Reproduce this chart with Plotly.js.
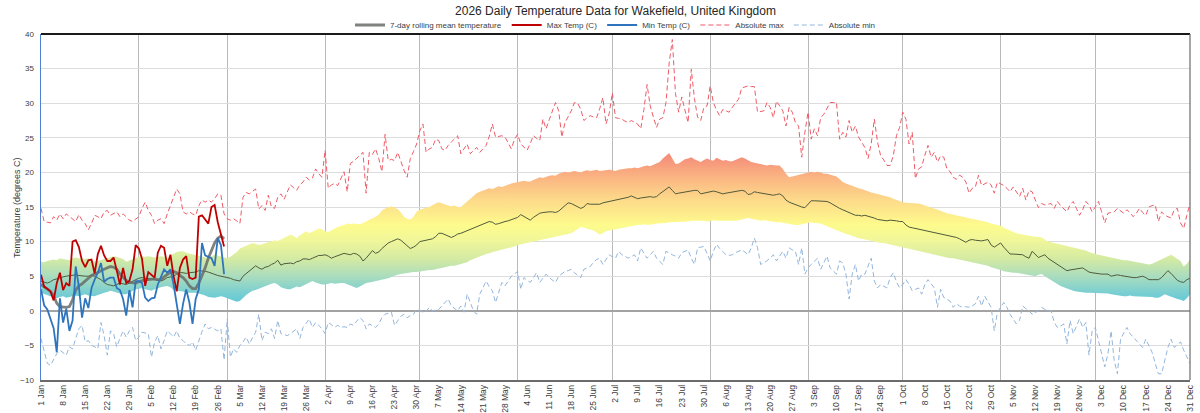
<!DOCTYPE html>
<html>
<head>
<meta charset="utf-8">
<script src="https://cdn.plot.ly/plotly-3.0.1.min.js"></script>
<style>
  html, body { margin: 0; padding: 0; background: #ffffff; }
  #chart { width: 1200px; height: 413px; }
</style>
</head>
<body>
<div id="chart"></div>
<script>
// Year axis: one category per day of 2026
const YEAR = 2026;
const DAY_COUNT = 365;

// Weekly tick labels along the bottom axis
const tickLabels = [
  '1 Jan', '8 Jan', '15 Jan', '22 Jan', '29 Jan', '5 Feb', '12 Feb', '19 Feb', '26 Feb',
  '5 Mar', '12 Mar', '19 Mar', '26 Mar', '2 Apr', '9 Apr', '16 Apr', '23 Apr', '30 Apr',
  '7 May', '14 May', '21 May', '28 May', '4 Jun', '11 Jun', '18 Jun', '25 Jun',
  '2 Jul', '9 Jul', '16 Jul', '23 Jul', '30 Jul', '6 Aug', '13 Aug', '20 Aug', '27 Aug',
  '3 Sep', '10 Sep', '17 Sep', '24 Sep', '1 Oct', '8 Oct', '15 Oct', '22 Oct', '29 Oct',
  '5 Nov', '12 Nov', '19 Nov', '26 Nov', '3 Dec', '10 Dec', '17 Dec', '24 Dec', '31 Dec'
];

// Long-term average daily mean temperature (thin line through the band)
const normalMean = [
  4.3, 4.2, 4.0, 4.2, 4.5, 4.6, 4.8, 4.9, 5.0, 5.1,
  5.2, 5.2, 5.1, 5.0, 5.0, 5.0, 5.1, 5.0, 4.8, 4.5,
  4.1, 3.8, 3.7, 3.6, 3.8, 4.0, 3.9, 3.8, 4.0, 4.3,
  4.5, 4.7, 4.8, 4.7, 4.7, 4.6, 4.5, 4.4, 4.3, 4.5,
  4.8, 4.9, 5.0, 5.3, 5.5, 5.5, 5.4, 5.5, 5.5, 5.6,
  5.8, 5.8, 5.7, 5.6, 5.4, 5.3, 5.1, 5.0, 4.9, 4.9,
  4.7, 4.5, 4.4, 4.3, 5.0, 5.4, 5.8, 6.1, 6.5, 6.2,
  6.0, 6.3, 6.4, 6.7, 6.9, 7.3, 6.6, 6.8, 6.9, 6.9,
  6.8, 7.1, 7.2, 7.5, 7.5, 7.4, 7.6, 7.8, 8.0, 8.0,
  8.1, 7.9, 7.6, 7.8, 8.0, 8.2, 8.3, 8.2, 8.1, 8.3,
  8.2, 7.9, 7.2, 7.6, 8.2, 8.7, 8.3, 8.5, 9.0, 9.4,
  9.8, 10.0, 10.2, 10.4, 10.2, 9.8, 9.4, 9.0, 9.2, 9.5,
  10.0, 10.1, 10.1, 10.2, 10.4, 10.7, 11.2, 11.2, 11.0, 10.8,
  10.6, 10.8, 11.1, 11.2, 11.4, 11.6, 11.8, 12.0, 12.2, 12.3,
  12.5, 12.7, 12.9, 12.8, 12.5, 12.6, 12.8, 12.9, 13.0, 13.2,
  13.4, 13.5, 13.9, 13.6, 13.3, 13.1, 13.5, 13.8, 14.1, 14.2,
  14.3, 14.3, 14.3, 14.2, 14.4, 14.8, 15.1, 15.6, 15.5, 15.3,
  15.1, 14.8, 15.0, 15.5, 15.4, 15.4, 15.3, 15.4, 15.6, 15.7,
  15.8, 15.9, 15.9, 16.0, 16.1, 16.3, 16.4, 16.6, 16.4, 16.2,
  16.3, 16.4, 16.5, 16.5, 16.4, 16.5, 16.9, 17.2, 17.5, 17.9,
  17.4, 16.9, 17.0, 17.1, 17.2, 17.3, 17.3, 17.4, 17.4, 16.9,
  17.0, 17.1, 17.3, 17.3, 17.2, 17.0, 16.9, 17.0, 17.1, 17.2,
  17.3, 17.4, 17.4, 17.3, 16.8, 16.9, 17.2, 17.1, 17.0, 16.9,
  16.8, 16.7, 16.7, 16.8, 16.9, 16.6, 16.0, 15.7, 15.5, 15.3,
  15.2, 15.0, 14.9, 15.4, 15.9, 15.9, 15.9, 15.9, 15.8, 15.8,
  15.6, 15.3, 15.0, 14.8, 14.6, 14.4, 14.2, 14.0, 13.8, 13.8,
  13.7, 13.8, 13.7, 13.5, 13.4, 13.2, 13.1, 13.0, 13.0, 13.1,
  13.1, 13.0, 12.9, 12.9, 12.4, 12.1, 12.0, 11.9, 11.9, 11.8,
  11.7, 11.6, 11.5, 11.4, 11.3, 11.2, 11.1, 11.0, 10.9, 10.8,
  10.6, 10.4, 10.1, 9.9, 10.2, 10.3, 10.2, 10.1, 10.1, 10.2,
  10.3, 9.5, 9.2, 9.5, 9.8, 9.2, 8.7, 8.2, 8.2, 8.2,
  8.1, 8.1, 7.8, 7.6, 8.6, 8.2, 7.7, 7.9, 8.1, 7.6,
  7.3, 7.0, 6.6, 6.3, 6.0, 5.8, 5.9, 6.0, 6.0, 6.1,
  6.2, 5.9, 5.6, 5.5, 5.4, 5.3, 5.3, 5.3, 5.3, 5.0,
  5.1, 5.2, 5.1, 5.0, 5.0, 4.9, 4.8, 4.8, 4.9, 5.0,
  4.8, 4.5, 4.5, 4.5, 4.5, 4.8, 5.3, 5.8, 5.4, 4.9,
  4.4, 4.2, 4.1, 4.5, 4.7
];

// Upper edge of the usual range
const rangeUpper = [
  7.1, 7.0, 7.2, 7.3, 7.4, 7.3, 7.6, 7.5, 7.4, 7.3,
  7.6, 7.7, 7.6, 7.5, 7.5, 7.6, 7.4, 7.1, 7.2, 7.4,
  7.5, 7.6, 7.8, 7.9, 7.8, 7.6, 7.5, 7.1, 7.3, 7.5,
  7.6, 7.8, 7.9, 7.8, 7.9, 7.8, 7.7, 7.8, 7.9, 7.8,
  7.6, 8.0, 8.3, 8.5, 8.6, 8.6, 8.4, 8.3, 8.2, 8.1,
  8.0, 7.9, 7.8, 7.6, 7.9, 8.1, 8.0, 7.9, 7.7, 7.6,
  7.8, 8.1, 8.5, 9.0, 9.2, 9.3, 9.5, 9.8, 9.7, 9.5,
  9.6, 9.8, 9.9, 10.0, 10.2, 10.1, 10.3, 10.5, 10.8, 11.0,
  10.8, 10.5, 10.9, 11.2, 11.5, 11.2, 11.4, 11.6, 11.9, 11.8,
  11.5, 11.4, 11.7, 11.9, 12.1, 12.2, 12.4, 12.6, 12.5, 12.6,
  12.6, 12.5, 12.7, 12.9, 13.1, 13.3, 13.6, 13.9, 14.5, 14.8,
  15.0, 15.1, 14.9, 14.7, 14.2, 13.6, 13.3, 13.2, 13.6, 14.3,
  14.6, 14.8, 14.9, 15.0, 15.3, 15.5, 15.7, 15.5, 15.3, 15.2,
  15.1, 15.2, 15.0, 15.0, 15.4, 15.8, 16.3, 16.7, 17.0, 17.2,
  17.4, 17.5, 17.7, 17.6, 17.8, 18.0, 17.9, 18.1, 18.2, 18.4,
  18.5, 18.6, 18.7, 18.8, 18.7, 18.7, 18.9, 19.1, 19.3, 19.2,
  19.4, 19.5, 19.6, 19.5, 19.8, 19.9, 20.1, 20.0, 20.1, 20.2,
  20.1, 20.0, 20.2, 20.3, 20.2, 20.3, 20.4, 20.2, 20.3, 20.3,
  20.4, 20.3, 20.2, 20.4, 20.5, 20.5, 20.6, 20.6, 20.7, 20.6,
  20.8, 20.9, 21.0, 20.9, 21.1, 21.3, 21.5, 22.0, 22.4, 22.8,
  22.0, 21.2, 21.3, 21.6, 21.9, 22.0, 22.2, 21.9, 21.7, 21.5,
  21.8, 22.0, 21.8, 21.7, 22.1, 21.9, 21.7, 21.8, 21.6, 21.6,
  21.8, 22.0, 22.2, 22.0, 21.7, 21.5, 21.4, 21.3, 21.2, 21.1,
  21.0, 21.1, 21.0, 21.0, 21.0, 20.5, 19.8, 19.3, 19.4, 19.5,
  19.6, 19.8, 19.9, 20.0, 20.1, 20.0, 20.1, 20.0, 19.8, 19.8,
  19.7, 19.6, 19.4, 19.0, 18.6, 18.4, 18.2, 18.0, 17.9, 17.7,
  17.6, 17.4, 17.3, 17.1, 17.0, 16.9, 16.8, 16.7, 16.6, 16.4,
  16.2, 16.0, 15.8, 15.7, 15.6, 15.6, 15.5, 15.5, 15.5, 15.4,
  15.2, 15.0, 14.9, 14.8, 14.6, 14.4, 14.3, 14.1, 14.0, 13.9,
  13.8, 13.8, 13.7, 13.5, 13.4, 13.4, 13.3, 13.1, 13.1, 13.0,
  12.8, 12.6, 12.5, 12.5, 12.3, 12.0, 11.8, 11.5, 11.3, 11.2,
  11.1, 11.0, 10.9, 10.8, 10.8, 10.7, 10.7, 10.6, 10.3, 10.0,
  9.9, 9.8, 9.6, 9.5, 9.4, 9.3, 9.2, 9.1, 9.0, 8.9,
  8.8, 8.7, 8.5, 8.3, 8.2, 8.1, 8.0, 7.8, 7.7, 7.6,
  7.5, 7.4, 7.4, 7.3, 7.3, 7.2, 7.1, 7.0, 6.9, 6.9,
  6.8, 6.7, 6.8, 7.0, 7.3, 7.5, 7.7, 7.9, 8.1, 7.8,
  7.5, 7.2, 6.4, 6.8, 7.4
];

// Lower edge of the usual range
const rangeLower = [
  2.6, 2.4, 2.3, 2.1, 2.0, 1.8, 2.0, 2.1, 1.9, 2.0,
  2.1, 2.2, 2.1, 2.3, 2.4, 2.2, 2.1, 2.1, 2.3, 2.5,
  2.6, 2.7, 2.9, 2.8, 2.6, 2.5, 2.4, 2.4, 2.6, 2.9,
  3.1, 3.2, 3.3, 3.1, 3.0, 2.9, 3.1, 3.3, 3.4, 3.5,
  3.6, 3.4, 3.0, 2.9, 2.9, 2.8, 2.6, 2.6, 2.7, 2.6,
  2.5, 2.4, 2.2, 2.0, 1.9, 1.9, 2.0, 2.1, 2.0, 1.8,
  1.7, 1.5, 1.3, 1.4, 1.9, 2.3, 2.6, 2.9, 3.0, 3.2,
  3.3, 3.5, 3.7, 3.9, 4.0, 3.8, 3.4, 3.2, 3.1, 3.1,
  3.3, 3.5, 3.4, 3.6, 3.9, 4.1, 4.3, 4.1, 3.9, 3.8,
  3.8, 3.9, 4.0, 3.9, 4.0, 4.0, 4.0, 3.8, 3.6, 3.4,
  3.3, 3.5, 3.8, 4.0, 4.1, 4.2, 4.3, 4.3, 4.4, 4.5,
  4.7, 4.9, 5.1, 5.2, 5.3, 5.4, 5.5, 5.5, 5.6, 5.6,
  5.7, 5.7, 5.8, 5.9, 5.9, 6.0, 6.1, 6.3, 6.3, 6.4,
  6.5, 6.5, 6.6, 6.7, 6.8, 7.0, 7.3, 7.5, 7.7, 7.8,
  8.0, 8.2, 8.3, 8.5, 8.6, 8.7, 8.8, 9.0, 9.1, 9.2,
  9.3, 9.5, 9.6, 9.7, 9.8, 9.9, 10.0, 10.1, 10.2, 10.3,
  10.4, 10.5, 10.6, 10.7, 10.8, 10.9, 11.0, 11.0, 11.2, 11.5,
  11.8, 12.1, 12.0, 11.9, 11.8, 11.6, 11.3, 11.0, 11.2, 11.5,
  11.6, 11.7, 11.8, 11.9, 12.0, 12.1, 12.2, 12.3, 12.3, 12.4,
  12.4, 12.5, 12.4, 12.4, 12.5, 12.6, 12.6, 12.7, 12.7, 12.8,
  12.8, 12.9, 12.9, 12.9, 12.8, 12.9, 13.0, 13.0, 13.1, 13.0,
  13.0, 12.9, 13.0, 13.1, 13.0, 13.0, 12.9, 12.9, 13.0, 12.9,
  13.0, 13.1, 13.2, 13.3, 13.4, 13.3, 13.2, 13.1, 13.0, 13.1,
  13.0, 12.9, 12.9, 12.8, 12.8, 12.7, 12.6, 12.5, 12.5, 12.4,
  12.4, 12.5, 12.6, 12.7, 12.8, 12.7, 12.7, 12.6, 12.4, 12.2,
  12.0, 11.9, 11.7, 11.5, 11.3, 11.1, 11.0, 10.8, 10.6, 10.5,
  10.4, 10.3, 10.2, 10.0, 9.9, 9.9, 9.8, 9.8, 9.7, 9.6,
  9.5, 9.4, 9.3, 9.2, 9.0, 8.9, 8.8, 8.7, 8.6, 8.5,
  8.4, 8.3, 8.2, 8.1, 8.0, 7.9, 7.8, 7.7, 7.6, 7.6,
  7.5, 7.4, 7.3, 7.2, 7.2, 7.1, 7.0, 6.9, 6.8, 6.7,
  6.5, 6.3, 6.2, 6.0, 5.9, 5.7, 5.6, 5.6, 5.5, 5.5,
  5.4, 5.3, 5.2, 5.1, 5.0, 5.0, 5.2, 5.3, 5.0, 4.7,
  4.5, 4.2, 3.9, 3.6, 3.4, 3.2, 3.1, 2.9, 2.8, 2.7,
  2.7, 2.6, 2.6, 2.6, 2.5, 2.5, 2.5, 2.5, 2.5, 2.4,
  2.3, 2.2, 2.1, 2.1, 2.1, 2.2, 2.1, 2.1, 2.0, 2.1,
  2.1, 2.0, 2.0, 1.9, 1.9, 2.1, 2.4, 2.2, 2.0, 1.8,
  1.7, 1.6, 1.4, 1.8, 2.4
];

// Record highest temperature for each day
const absoluteMax = [
  14.8, 12.9, 12.8, 12.7, 13.6, 13.1, 14.0, 13.3, 14.0, 13.6,
  13.2, 12.9, 13.9, 13.1, 12.6, 11.7, 12.6, 13.8, 13.6, 13.3,
  14.3, 14.5, 13.8, 14.0, 14.3, 13.6, 14.0, 13.6, 13.1, 12.9,
  13.2, 13.6, 14.8, 15.7, 14.5, 13.8, 12.6, 13.1, 13.3, 12.6,
  14.0, 15.2, 16.7, 17.6, 16.9, 14.3, 14.0, 14.3, 14.0, 13.8,
  15.2, 16.0, 15.7, 16.0, 15.7, 16.2, 16.9, 16.7, 14.0, 13.3,
  13.1, 13.3, 13.0, 12.6, 16.4, 17.1, 16.9, 17.2, 17.6, 14.7,
  15.2, 14.5, 16.7, 15.0, 14.8, 16.4, 16.9, 16.1, 17.2, 18.2,
  17.8, 17.4, 18.2, 18.6, 19.3, 18.9, 19.2, 20.5, 19.8, 19.3,
  23.2, 17.7, 18.2, 18.4, 18.1, 19.0, 20.1, 17.2, 21.3, 21.6,
  22.0, 22.5, 22.9, 17.0, 22.9, 22.6, 23.4, 22.0, 20.1, 25.5,
  21.7, 21.9, 21.7, 22.9, 21.5, 20.3, 19.3, 22.0, 23.0, 24.1,
  26.0, 27.0, 22.9, 23.4, 23.6, 24.8, 24.6, 23.4, 23.2, 23.9,
  24.4, 24.9, 25.3, 22.7, 23.5, 24.1, 22.7, 23.1, 23.6, 22.9,
  23.4, 23.9, 25.2, 27.0, 25.1, 25.2, 25.3, 25.1, 24.3, 23.4,
  24.8, 25.5, 24.1, 23.7, 23.2, 24.2, 25.3, 24.9, 24.6, 27.7,
  26.3, 27.6, 28.9, 30.1, 28.9, 25.1, 27.2, 28.0, 28.9, 30.1,
  30.0, 29.1, 27.5, 27.9, 28.2, 28.0, 27.9, 29.2, 30.8, 27.0,
  28.5, 31.5, 27.9, 27.8, 27.7, 27.4, 27.2, 27.5, 27.2, 27.0,
  26.3, 29.1, 32.7, 29.6, 28.0, 26.5, 27.7, 27.9, 30.1, 35.8,
  39.2, 31.4, 28.7, 30.9, 29.0, 27.2, 34.9, 30.7, 28.0, 27.5,
  29.4, 29.6, 32.5, 30.1, 29.0, 28.2, 29.1, 28.9, 28.7, 29.4,
  30.0, 30.6, 32.2, 32.4, 32.5, 32.4, 32.4, 28.7, 28.8, 28.9,
  30.1, 29.4, 27.9, 30.3, 29.6, 28.9, 26.7, 29.4, 28.7, 27.2,
  26.7, 22.2, 25.8, 28.7, 24.8, 26.3, 25.3, 27.9, 28.4, 29.2,
  30.1, 30.1, 30.1, 24.8, 25.8, 25.1, 27.5, 25.8, 26.7, 25.1,
  24.4, 23.6, 22.0, 24.1, 27.7, 24.4, 22.4, 21.8, 21.0, 21.0,
  22.4, 25.3, 26.5, 28.7, 27.7, 24.1, 25.8, 19.1, 20.5, 20.8,
  22.5, 23.9, 22.2, 22.9, 21.5, 22.4, 22.2, 20.5, 20.1, 19.3,
  19.0, 19.6, 19.3, 18.6, 17.0, 17.7, 17.9, 19.6, 18.1, 18.4,
  18.6, 18.2, 17.0, 18.6, 18.4, 18.1, 17.7, 17.2, 17.9, 17.2,
  16.5, 17.7, 16.0, 17.4, 17.2, 16.0, 14.9, 15.5, 15.3, 15.4,
  15.5, 14.8, 15.8, 15.2, 14.8, 14.3, 15.3, 15.8, 14.8, 13.8,
  14.6, 15.8, 15.3, 14.3, 15.0, 15.8, 14.3, 12.7, 14.1, 14.2,
  14.3, 14.8, 14.5, 14.1, 14.6, 14.2, 13.6, 14.1, 14.8, 14.2,
  13.8, 15.0, 15.2, 15.3, 12.9, 14.3, 13.8, 13.6, 13.4, 14.6,
  14.8, 12.7, 11.9, 13.8, 15.5
];

// Record lowest temperature for each day
const absoluteMin = [
  -4.0, -6.0, -7.6, -7.9, -7.1, -6.2, -5.7, -6.0, -6.4, -5.2,
  -5.5, -4.0, -2.6, -2.1, -4.5, -4.3, -5.0, -5.2, -5.5, -1.7,
  -3.6, -6.4, -2.9, -3.3, -5.2, -4.0, -2.9, -3.8, -2.9, -2.4,
  -4.3, -3.8, -3.1, -3.2, -3.3, -6.7, -4.5, -3.6, -5.5, -4.3,
  -2.9, -3.3, -3.8, -2.9, -4.0, -4.3, -4.8, -5.0, -4.5, -5.7,
  -4.3, -3.0, -1.9, -2.6, -2.4, -2.6, -2.9, -2.6, -7.1, -1.2,
  -6.7, -5.5, -6.0, -5.0, -4.5, -3.8, -4.8, -3.9, -3.1, -0.5,
  -4.3, -3.1, -3.3, -2.6, -4.0, -1.4, -3.3, -3.4, -3.6, -3.3,
  -3.0, -2.6, -4.0, -2.4, -1.8, -1.2, -2.4, -1.7, -2.1, -2.6,
  -3.3, -1.7, -2.0, -2.4, -2.1, -2.4, -2.3, -2.4, -1.9, -2.1,
  -1.5, -1.0, -1.4, -2.6, -1.9, -2.2, -2.4, -1.9, -1.0, -0.5,
  -0.4, -0.2, -2.1, -1.4, -0.8, -0.5, -1.0, -0.7, -0.5, 0.2,
  0.0, -0.2, -0.1, 0.5, 0.0, 0.1, 0.2, 0.7, 1.2, 1.7,
  0.7, 0.3, 0.0, 0.7, -0.2, 2.4, 1.2, 0.0, -0.5, 2.4,
  3.3, 4.3, 3.5, 2.9, 1.2, 2.8, 4.1, 3.6, 4.3, 5.0,
  5.3, 5.7, 3.1, 4.8, 4.4, 4.1, 4.8, 5.5, 4.1, 4.7,
  5.3, 4.8, 4.4, 4.1, 5.0, 5.3, 5.7, 5.8, 6.0, 5.5,
  5.1, 4.8, 6.0, 6.2, 6.4, 7.0, 7.4, 7.6, 6.7, 7.4,
  8.1, 7.8, 7.6, 8.6, 8.1, 7.9, 7.6, 7.8, 8.1, 7.2,
  9.1, 8.3, 7.6, 8.1, 8.6, 7.6, 7.2, 6.7, 8.6, 8.3,
  8.1, 7.9, 7.6, 8.4, 8.6, 8.8, 7.6, 6.7, 9.1, 9.2,
  9.3, 8.3, 7.2, 8.6, 9.6, 9.0, 8.6, 8.1, 8.0, 8.1,
  8.4, 8.6, 8.8, 8.5, 8.1, 9.1, 10.5, 9.1, 6.7, 6.9,
  7.2, 7.6, 8.1, 7.2, 7.9, 8.6, 7.6, 9.1, 8.8, 8.6,
  6.7, 9.1, 5.3, 6.2, 6.7, 7.2, 7.6, 6.0, 7.0, 7.9,
  6.2, 5.8, 5.3, 7.2, 6.9, 5.3, 1.7, 5.3, 6.7, 4.3,
  5.3, 5.3, 6.4, 7.6, 4.3, 3.3, 3.8, 3.5, 3.3, 4.8,
  5.5, 4.2, 3.3, 3.8, 4.5, 3.8, 2.9, 3.1, 3.3, 2.4,
  3.8, 4.5, 3.9, 3.3, 0.5, 3.1, 1.9, 1.6, 1.4, 0.5,
  1.0, 0.7, 0.5, 0.6, 0.5, 0.7, 1.0, 2.1, 0.7, 2.1,
  1.2, 0.5, -2.9, -0.2, 0.5, 1.2, 0.5, -0.5, -1.2, -1.9,
  -1.4, 0.7, 0.3, 0.0, -0.5, -0.2, 0.0, 0.5, 0.2, 0.1,
  0.0, -1.7, -2.4, -2.2, -1.9, -4.8, -1.4, -3.3, -2.3, -1.2,
  -2.4, -1.7, -6.4, -2.9, -2.4, -4.3, -6.0, -8.1, -6.2, -2.9,
  -7.2, -9.1, -4.1, -3.3, -2.4, -3.3, -3.8, -4.3, -4.8, -5.3,
  -4.1, -5.0, -6.0, -7.6, -9.1, -9.1, -7.2, -5.3, -4.1, -5.3,
  -4.9, -4.5, -5.7, -6.7, -7.6
];

// 2026 observations so far (1 Jan - 28 Feb)
const maxTemp2026 = [
  5.2, 3.5, 3.2, 2.8, 1.5, 4.0, 5.5, 3.0, 4.0, 3.6,
  10.0, 10.2, 9.2, 7.2, 6.3, 7.3, 7.4, 5.4, 8.2, 9.4,
  8.0, 7.2, 7.2, 7.7, 5.8, 3.8, 6.2, 4.0, 4.3, 6.0,
  9.5, 9.0, 7.5, 3.6, 5.6, 5.2, 4.8, 8.4, 9.4, 9.1,
  6.5, 8.1, 5.0, 2.8, 6.2, 7.4, 7.9, 4.8, 4.6, 4.8,
  13.6, 13.8, 13.2, 12.6, 15.0, 15.3, 12.8, 11.2, 9.3
];

const minTemp2026 = [
  3.1, 0.8, 0.2, -1.0, -2.5, -6.0, 1.8, -1.7, 0.3, -2.9,
  -1.4, 6.4, 3.5, -1.0, 1.8, 0.4, 3.3, 4.5, 5.5, 6.9,
  4.2, 4.6, 4.8, 4.8, 3.3, 3.0, 1.7, -0.7, 3.0, 0.5,
  4.3, 4.3, 4.0, 1.9, 1.4, 1.8, 1.9, 3.8, 5.0, 6.0,
  5.5, 6.0, 3.8, 1.0, -1.9, 1.0, 3.1, 1.2, -1.9, 1.7,
  3.1, 9.8, 8.0, 7.8, 7.6, 6.5, 10.5, 9.5, 5.3
];

const rollingMean2026 = [
  3.8, 3.5, 3.2, 2.8, 2.2, 1.1, 0.6, 0.5, 0.5, 0.6,
  1.6, 3.0, 3.6, 3.9, 4.3, 4.8, 5.1, 5.3, 5.6, 5.8,
  6.0, 6.2, 6.4, 6.3, 6.0, 5.3, 4.8, 4.4, 4.1, 4.0,
  4.0, 4.2, 4.4, 4.5, 4.5, 4.6, 4.6, 4.5, 4.5, 4.9,
  5.2, 5.6, 5.7, 5.5, 5.1, 4.8, 4.3, 3.6, 3.2, 3.2,
  4.0, 5.0, 6.2, 7.6, 8.7, 9.8, 10.5, 10.8, 10.4
];

// Build the ISO date for every day of the year
function isoDate(dayIndex) {
  const d = new Date(Date.UTC(YEAR, 0, 1 + dayIndex));
  return d.toISOString().slice(0, 10);
}
const dates = [];
for (let i = 0; i < DAY_COUNT; i++) dates.push(isoDate(i));
const tickDates = tickLabels.map((_, k) => dates[k * 7]);
const obsDates = dates.slice(0, maxTemp2026.length);

// Band shading follows the temperature itself: cool teal low, warm salmon high
const bandScale = [
  [0.00, '#4ec4d8'],
  [0.11, '#78ced2'],
  [0.22, '#abddbd'],
  [0.33, '#d5eba2'],
  [0.44, '#f0f69a'],
  [0.54, '#fdfb8c'],
  [0.70, '#fdd98a'],
  [0.83, '#fbb783'],
  [0.96, '#f5917a'],
  [1.00, '#f38a78']
];

const traces = [
  {
    x: dates, y: rangeLower, type: 'scatter', mode: 'lines',
    line: { width: 0, color: 'rgba(0,0,0,0)' },
    hoverinfo: 'skip', showlegend: false
  },
  {
    x: dates, y: rangeUpper, type: 'scatter', mode: 'lines',
    line: { width: 0, color: 'rgba(0,0,0,0)' },
    fill: 'tonexty',
    fillgradient: { type: 'vertical', colorscale: bandScale, start: 0, stop: 23 },
    hoverinfo: 'skip', showlegend: false
  },
  {
    x: dates, y: normalMean, type: 'scatter', mode: 'lines',
    line: { width: 1, color: '#505b3c' },
    showlegend: false
  },
  {
    x: obsDates, y: rollingMean2026, type: 'scatter', mode: 'lines',
    name: '7-day rolling mean temperature',
    line: { width: 2.8, color: 'rgba(105,108,105,0.85)' }
  },
  {
    x: obsDates, y: maxTemp2026, type: 'scatter', mode: 'lines',
    name: 'Max Temp (C)',
    line: { width: 1.8, color: '#c00000' }
  },
  {
    x: obsDates, y: minTemp2026, type: 'scatter', mode: 'lines',
    name: 'Min Temp (C)',
    line: { width: 1.8, color: '#2f75bd' }
  },
  {
    x: dates, y: absoluteMax, type: 'scatter', mode: 'lines',
    name: 'Absolute max',
    line: { width: 1, color: '#ee5b67', dash: '5px,3px' }
  },
  {
    x: dates, y: absoluteMin, type: 'scatter', mode: 'lines',
    name: 'Absolute min',
    line: { width: 1, color: '#93b6dc', dash: '5px,3px' }
  }
];

const layout = {
  width: 1200,
  height: 413,
  margin: { l: 41, r: 10, t: 31, b: 33 },
  paper_bgcolor: '#ffffff',
  plot_bgcolor: '#ffffff',
  font: { family: '"Liberation Sans", Arial, sans-serif', color: '#404040', size: 9 },
  title: {
    text: '2026 Daily Temperature Data for Wakefield, United Kingdom',
    font: { size: 12, color: '#262626' },
    x: 0.5, xanchor: 'center', xref: 'paper',
    y: 0.975, yanchor: 'middle', yref: 'container'
  },
  showlegend: true,
  legend: {
    orientation: 'h', x: 0.5, xanchor: 'center',
    y: 1.026, yanchor: 'middle',
    font: { size: 8, color: '#404040' },
    itemwidth: 30, bgcolor: 'rgba(0,0,0,0)', traceorder: 'normal'
  },
  xaxis: {
    type: 'date',
    range: [dates[0], dates[DAY_COUNT - 1]],
    tickmode: 'array', tickvals: tickDates, ticktext: tickLabels,
    tickangle: -90, tickfont: { size: 8.5, color: '#404040' },
    ticks: '', showgrid: false, zeroline: false,
    showline: true, linecolor: '#6b6b6b', linewidth: 1.5,
    minor: { dtick: 'M1', tick0: dates[0], showgrid: true, gridcolor: '#b9b9b9', gridwidth: 1, ticks: '' },
    fixedrange: true
  },
  yaxis: {
    range: [-10, 40], dtick: 5, tick0: 0,
    tickfont: { size: 8, color: '#404040' },
    ticks: 'outside', ticklen: 4, tickcolor: '#ffffff',
    showgrid: true, gridcolor: '#dcdcdc', gridwidth: 1,
    zeroline: true, zerolinecolor: '#a3a3a3', zerolinewidth: 1.5,
    showline: true, linecolor: '#4f82d4', linewidth: 1.5,
    fixedrange: true
  },
  annotations: [
    {
      text: 'Temperature (degrees C)', textangle: -90,
      xref: 'paper', yref: 'paper', x: -0.0209, y: 0.5,
      xanchor: 'center', yanchor: 'middle', showarrow: false,
      font: { size: 9, color: '#404040' }
    }
  ],
  shapes: [
    { type: 'line', xref: 'paper', yref: 'paper', x0: 0, x1: 1, y0: 1, y1: 1,
      line: { color: '#1a1a1a', width: 1.8 } },
    { type: 'line', xref: 'paper', yref: 'paper', x0: 1, x1: 1, y0: 0, y1: 1,
      line: { color: '#6b6b6b', width: 1.2 } }
  ]
};

Plotly.newPlot('chart', traces, layout, { displayModeBar: false, staticPlot: true });
</script>
</body>
</html>
